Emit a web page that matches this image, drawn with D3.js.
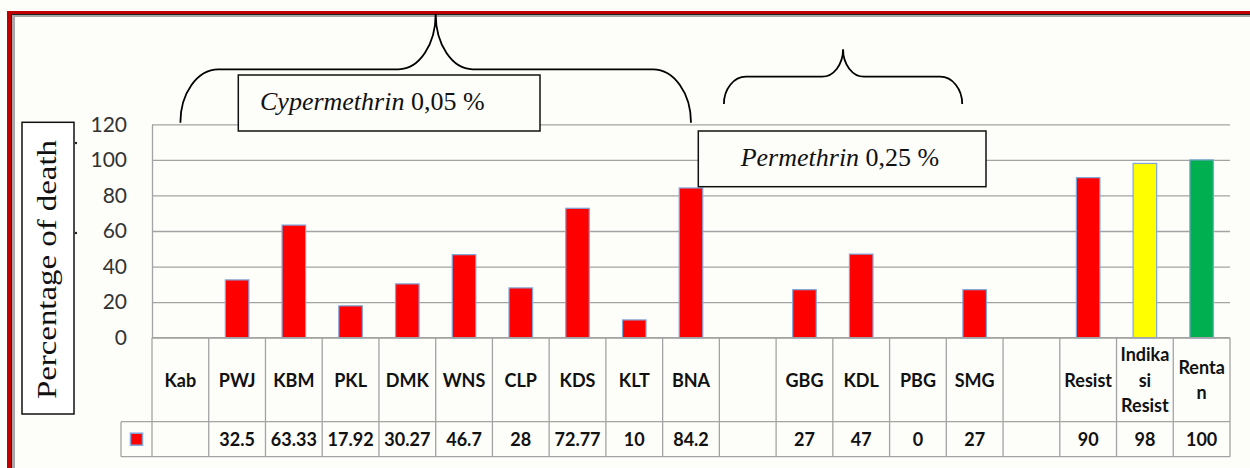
<!DOCTYPE html>
<html>
<head>
<meta charset="utf-8">
<script src="https://cdn.jsdelivr.net/npm/d3@7"></script>
<style>
  html, body { margin: 0; padding: 0; background: #FDFDFA; }
  svg { display: block; }
</style>
</head>
<body>
<svg id="chart" width="1250" height="468"></svg>
<script>
// ---- data ----
const categories = ["Kab","PWJ","KBM","PKL","DMK","WNS","CLP","KDS","KLT","BNA","","GBG","KDL","PBG","SMG","","Resist","Indikasi Resist","Rentan"];
const values     = [null,32.5,63.33,17.92,30.27,46.7,28,72.77,10,84.2,null,27,47,0,27,null,90,98,100];
const valueLabels = ["","32.5","63.33","17.92","30.27","46.7","28","72.77","10","84.2","","27","47","0","27","","90","98","100"];
const headerLines = [["Kab"],["PWJ"],["KBM"],["PKL"],["DMK"],["WNS"],["CLP"],["KDS"],["KLT"],["BNA"],[""],["GBG"],["KDL"],["PBG"],["SMG"],[""],["Resist"],["Indika","si","Resist"],["Renta","n"]];
const yTicks = [0,20,40,60,80,100,120];
const yTitle = "Percentage of death";
const groupLabels = [{italic:"Cypermethrin", rest:" 0,05 %"},{italic:"Permethrin", rest:" 0,25 %"}];

// ---- styles ----
const specialColors = {"Indikasi Resist":"#FFFF00","Rentan":"#00B050"};
const barRed = "#FF0000";
const barStroke = "#7FA6DB";
const gridColor = "#A3A3A3";
const sansFont = "Lato, 'Open Sans', sans-serif";
const serifFont = "'Liberation Serif', 'DejaVu Serif', serif";

const svg = d3.select("#chart");

// frame (red double border running off right/bottom)
const frame = svg.append("g");
frame.append("line").attr("x1",9).attr("x2",9).attr("y1",11).attr("y2",468).attr("stroke","#C00000").attr("stroke-width",4);
frame.append("line").attr("x1",7).attr("x2",1250).attr("y1",12.5).attr("y2",12.5).attr("stroke","#C00000").attr("stroke-width",3);
frame.append("line").attr("x1",11.5).attr("x2",11.5).attr("y1",14).attr("y2",468).attr("stroke","#222").attr("stroke-width",1);
frame.append("line").attr("x1",11).attr("x2",1250).attr("y1",14.5).attr("y2",14.5).attr("stroke","#222").attr("stroke-width",1);
frame.append("line").attr("x1",13.5).attr("x2",13.5).attr("y1",15).attr("y2",468).attr("stroke","#A8A8A8").attr("stroke-width",3);
frame.append("line").attr("x1",12).attr("x2",1250).attr("y1",16).attr("y2",16).attr("stroke","#A8A8A8").attr("stroke-width",2);

// scales
const plotLeft = 152, plotRight = 1230, plotTop = 124.3, plotBottom = 337.7;
const headerBottom = 421.7, valueBottom = 456.7, legendLeft = 121;
const x = d3.scaleBand().domain(d3.range(categories.length)).range([plotLeft, plotRight]).padding(0);
const y = d3.scaleLinear().domain([0,120]).range([plotBottom, plotTop]);
const bw = x.bandwidth();

// gridlines
svg.append("g")
  .attr("transform",`translate(${plotLeft},0)`)
  .call(d3.axisLeft(y).tickValues(yTicks).tickSize(-(plotRight-plotLeft)).tickFormat(""))
  .call(g => g.select(".domain").remove())
  .call(g => g.selectAll("line").attr("stroke",gridColor).attr("stroke-width",1.3));

// y axis labels + axis line
svg.append("g")
  .attr("transform",`translate(${plotLeft},0)`)
  .call(d3.axisLeft(y).tickValues(yTicks).tickSize(0).tickSizeOuter(0).tickPadding(25))
  .call(g => g.select(".domain").attr("stroke",gridColor).attr("stroke-width",1.3))
  .call(g => g.selectAll("text").attr("font-family",sansFont).attr("font-size",21).attr("fill","#333"));

// bars
const barW = bw*0.415;
svg.append("g").selectAll("rect")
  .data(values.map((v,i)=>({v,i})).filter(d=>d.v!==null))
  .join("rect")
  .attr("x", d => x(d.i) + (bw-barW)/2)
  .attr("y", d => y(d.v))
  .attr("width", barW)
  .attr("height", d => y(0)-y(d.v))
  .attr("fill", d => specialColors[categories[d.i]] || barRed)
  .attr("stroke", d => d.v>0 ? barStroke : "none")
  .attr("stroke-width", 1.2);

// data table
const tbl = svg.append("g").attr("stroke",gridColor).attr("stroke-width",1.3);
// horizontal lines
tbl.append("line").attr("x1",plotLeft).attr("x2",plotRight).attr("y1",plotBottom).attr("y2",plotBottom);
tbl.append("line").attr("x1",legendLeft).attr("x2",plotRight).attr("y1",headerBottom).attr("y2",headerBottom);
tbl.append("line").attr("x1",legendLeft).attr("x2",plotRight).attr("y1",valueBottom).attr("y2",valueBottom);
// vertical lines
const bounds = d3.range(categories.length).map(i=>x(i)).concat([plotRight]);
tbl.selectAll("line.v").data(bounds).join("line").attr("class","v")
  .attr("x1",d=>d).attr("x2",d=>d).attr("y1",plotBottom).attr("y2",valueBottom);
tbl.append("line").attr("x1",legendLeft).attr("x2",legendLeft).attr("y1",headerBottom).attr("y2",valueBottom);

// header labels
const hdr = svg.append("g").attr("font-family",sansFont).attr("font-size",18).attr("font-weight","bold").attr("fill","#111").attr("text-anchor","middle");
const lineH = 25.5;
headerLines.forEach((lines,i)=>{
  const cy = (plotBottom+headerBottom)/2;
  const t = hdr.append("text").attr("x", x(i)+bw/2).attr("dominant-baseline","central");
  lines.forEach((ln,k)=>{
    t.append("tspan").attr("x",x(i)+bw/2).attr("y", cy + (k-(lines.length-1)/2)*lineH).text(ln);
  });
});
// value labels
svg.append("g").attr("font-family",sansFont).attr("font-size",18).attr("font-weight","bold").attr("fill","#111").attr("text-anchor","middle")
  .selectAll("text").data(valueLabels).join("text")
  .attr("x",(d,i)=>x(i)+bw/2).attr("y",(headerBottom+valueBottom)/2).attr("dominant-baseline","central")
  .text(d=>d);
// legend key
svg.append("rect").attr("x",(legendLeft+plotLeft)/2-6).attr("y",(headerBottom+valueBottom)/2-6).attr("width",12).attr("height",12)
  .attr("fill",barRed).attr("stroke",barStroke).attr("stroke-width",1.5);

// y title box
svg.append("rect").attr("x",22).attr("y",122.3).attr("width",52).attr("height",291.7).attr("fill","#fff").attr("stroke","#111").attr("stroke-width",1.5);
svg.append("text").attr("transform","translate(56,269.5) rotate(-90)").attr("text-anchor","middle")
  .attr("font-family",serifFont).attr("font-size",28).attr("fill","#111")
  .attr("textLength",259).attr("lengthAdjust","spacingAndGlyphs").text(yTitle);
svg.append("circle").attr("cx",76).attr("cy",143).attr("r",1.2).attr("fill","#222");
svg.append("circle").attr("cx",76).attr("cy",233).attr("r",1.2).attr("fill","#222");

// braces
function brace(L,R,Yb,Ym,Tx,Yt,rEnd,rTip){
  return `M${L},${Yb} A${rEnd},${Yb-Ym} 0 0 1 ${L+rEnd},${Ym} L${Tx-rTip},${Ym} A${rTip},${Ym-Yt} 0 0 0 ${Tx},${Yt}`+
         ` A${rTip},${Ym-Yt} 0 0 0 ${Tx+rTip},${Ym} L${R-rEnd},${Ym} A${rEnd},${Yb-Ym} 0 0 1 ${R},${Yb}`;
}
const step = x.step();
const b1L = plotLeft + step*0.5, b1R = plotLeft + step*9.5;
const b2L = plotLeft + step*10.08, b2R = plotLeft + step*14.28;
svg.append("path").attr("d",brace(b1L,b1R,122.7,69.3,(b1L+b1R)/2,14,38,37)).attr("fill","none").attr("stroke","#000").attr("stroke-width",1.8);
svg.append("path").attr("d",brace(b2L,b2R,104,76.7,(b2L+b2R)/2,49.3,22,21)).attr("fill","none").attr("stroke","#000").attr("stroke-width",1.8);

// group label boxes
const boxes = [{x:238.3,y:75,w:301.7,h:56,tx:260,ty:110},{x:698.3,y:131,w:287.7,h:55.7,tx:740.7,ty:165.7}];
boxes.forEach((b,i)=>{
  svg.append("rect").attr("x",b.x).attr("y",b.y).attr("width",b.w).attr("height",b.h).attr("fill","#FDFDFA").attr("stroke","#111").attr("stroke-width",1.5);
  const t = svg.append("text").attr("x",b.tx).attr("y",b.ty).attr("font-family",serifFont).attr("font-size",26).attr("fill","#111");
  t.append("tspan").attr("font-style","italic").text(groupLabels[i].italic);
  t.append("tspan").text(groupLabels[i].rest);
});
</script>
</body>
</html>
